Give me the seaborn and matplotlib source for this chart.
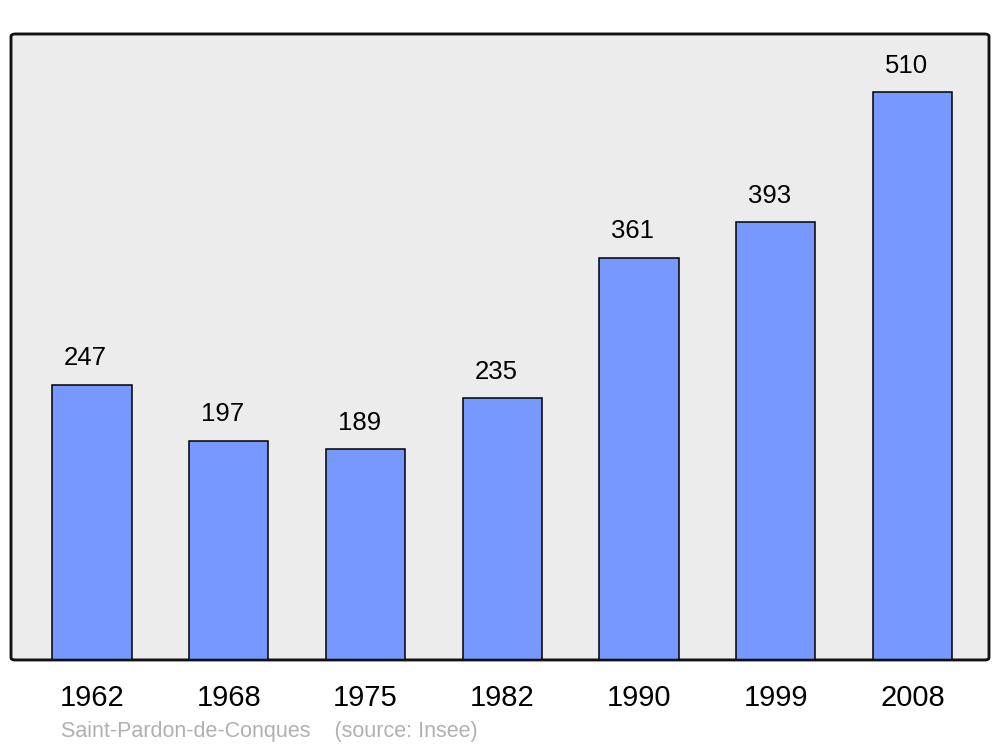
import matplotlib
matplotlib.use("Agg")
import matplotlib.pyplot as plt
import seaborn as sns
import pandas as pd
from matplotlib.patches import FancyBboxPatch

years = ["1962", "1968", "1975", "1982", "1990", "1999", "2008"]
population = [247, 197, 189, 235, 361, 393, 510]
source_text = "Saint-Pardon-de-Conques    (source: Insee)"

df = pd.DataFrame({"year": years, "pop": population})

sns.set_style("white")
plt.rcParams["font.family"] = ["Liberation Sans", "DejaVu Sans"]
plt.rcParams["text.color"] = "black"
plt.rcParams["xtick.color"] = "black"

fig = plt.figure(figsize=(10, 7.47), dpi=100)
ax = fig.add_axes([0.011, 0.1165, 0.978, 0.838])

sns.barplot(data=df, x="year", y="pop", color="#7799ff", saturation=1,
            edgecolor="black", linewidth=1.1, width=0.58, ax=ax, zorder=2)

# value labels above the bars (slightly left of centre, as in the original)
for i, v in enumerate(population):
    ax.annotate(str(v), (i, v), xytext=(-4.5, 19), textcoords="offset points",
                ha="center", va="center", fontsize=18.5, color="black")

ax.set_xlim(-0.592, 6.56)
ax.set_ylim(0, 562)
ax.set_xlabel("")
ax.set_ylabel("")
ax.set_yticks([])
ax.tick_params(axis="x", length=0, pad=17, labelsize=21, labelcolor="black")

# rounded grey frame instead of the plain spines
ax.patch.set_visible(False)
for s in ax.spines.values():
    s.set_visible(False)
frame = FancyBboxPatch((0, 0), 1, 1, boxstyle="round,pad=0,rounding_size=0.004",
                       transform=ax.transAxes, facecolor="#ececec",
                       edgecolor="#111111", linewidth=1.8, zorder=0, clip_on=False)
ax.add_patch(frame)
frame2 = FancyBboxPatch((0, 0), 1, 1, boxstyle="round,pad=0,rounding_size=0.004",
                        transform=ax.transAxes, facecolor="none",
                        edgecolor="#111111", linewidth=1.8, zorder=5, clip_on=False)
ax.add_patch(frame2)

fig.text(0.061, 0.021, source_text, color="#b0b0b0", fontsize=15.5,
         ha="left", va="center")

fig.savefig("out.png", dpi=100)
